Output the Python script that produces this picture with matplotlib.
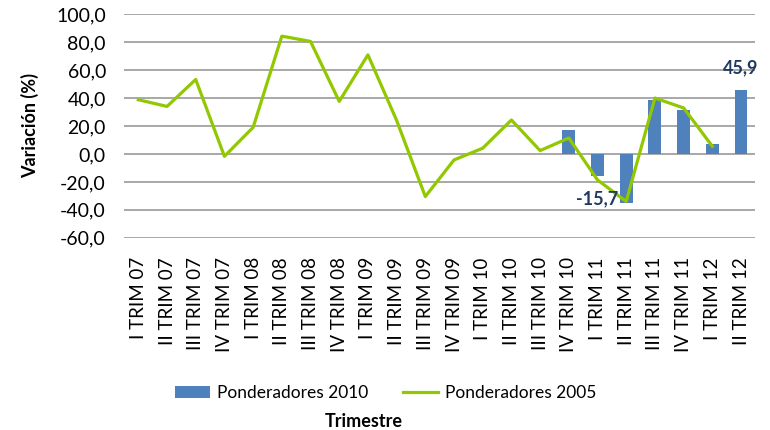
import matplotlib.pyplot as plt
import numpy as np

plt.rcParams['font.family'] = ['Lato', 'DejaVu Sans']

trimestres = ['I TRIM 07', 'II TRIM 07', 'III TRIM 07', 'IV TRIM 07',
              'I TRIM 08', 'II TRIM 08', 'III TRIM 08', 'IV TRIM 08',
              'I TRIM 09', 'II TRIM 09', 'III TRIM 09', 'IV TRIM 09',
              'I TRIM 10', 'II TRIM 10', 'III TRIM 10', 'IV TRIM 10',
              'I TRIM 11', 'II TRIM 11', 'III TRIM 11', 'IV TRIM 11',
              'I TRIM 12', 'II TRIM 12']

# Ponderadores 2005 (line), None where no data
pond_2005 = [38.8, 34.0, 53.3, -1.7, 19.0, 84.3, 80.5, 37.6, 70.9, 24.0,
             -30.5, -4.3, 4.1, 24.3, 2.4, 11.4, -18.6, -34.0, 40.0, 32.9,
             5.5, None]

# Ponderadores 2010 (bars), None where no data
pond_2010 = [None] * 15 + [17.1, -15.7, -35.2, 38.6, 31.4, 7.1, 45.9]

etiquetas = {16: '-15,7', 21: '45,9'}

x = np.arange(len(trimestres))
bars = np.array([np.nan if v is None else v for v in pond_2010])
line = np.array([np.nan if v is None else v for v in pond_2005])

fig = plt.figure(figsize=(7.7, 4.3), dpi=100)
ax = fig.add_axes([0.161, 0.447, 0.82, 0.52])

b = ax.bar(x, bars, width=0.45, color='#4F81BD', label='Ponderadores 2010', zorder=2)
l, = ax.plot(x, line, color='#92C800', lw=2.3, label='Ponderadores 2005', zorder=3)

for i, txt in etiquetas.items():
    ypos = -32 if bars[i] < 0 else 62
    ax.text(x[i], ypos, txt, ha='center', va='center', fontsize=13,
            fontweight='bold', color='#1F3A60')

ax.set_xlim(-0.5, len(trimestres) - 0.5)
ax.set_ylim(-60, 100)
ax.set_yticks(np.arange(-60, 101, 20))
ax.set_yticklabels([f'{v:.1f}'.replace('.', ',') for v in np.arange(-60, 101, 20)],
                   fontsize=14)
ax.set_xticks(x)
ax.set_xticklabels(trimestres, rotation=90, fontsize=13.5)
ax.tick_params(axis='y', length=0, pad=13)
ax.tick_params(axis='x', length=0, pad=14)
ax.grid(axis='y', color='#999999', lw=1.2, zorder=0)
ax.set_axisbelow(True)
for s in ax.spines.values():
    s.set_visible(False)

ax.set_ylabel('Variación (%)', fontsize=13, fontweight='bold', labelpad=12)
fig.text(0.473, 0.02, 'Trimestre', ha='center', va='center',
         fontsize=13, fontweight='bold')

fig.legend([b, l], ['Ponderadores 2010', 'Ponderadores 2005'],
           loc='center', bbox_to_anchor=(0.501, 0.086), ncol=2, frameon=False,
           fontsize=12.5, handlelength=2.0, columnspacing=2.0, handletextpad=0.4)

fig.savefig('out.png', dpi=100)
